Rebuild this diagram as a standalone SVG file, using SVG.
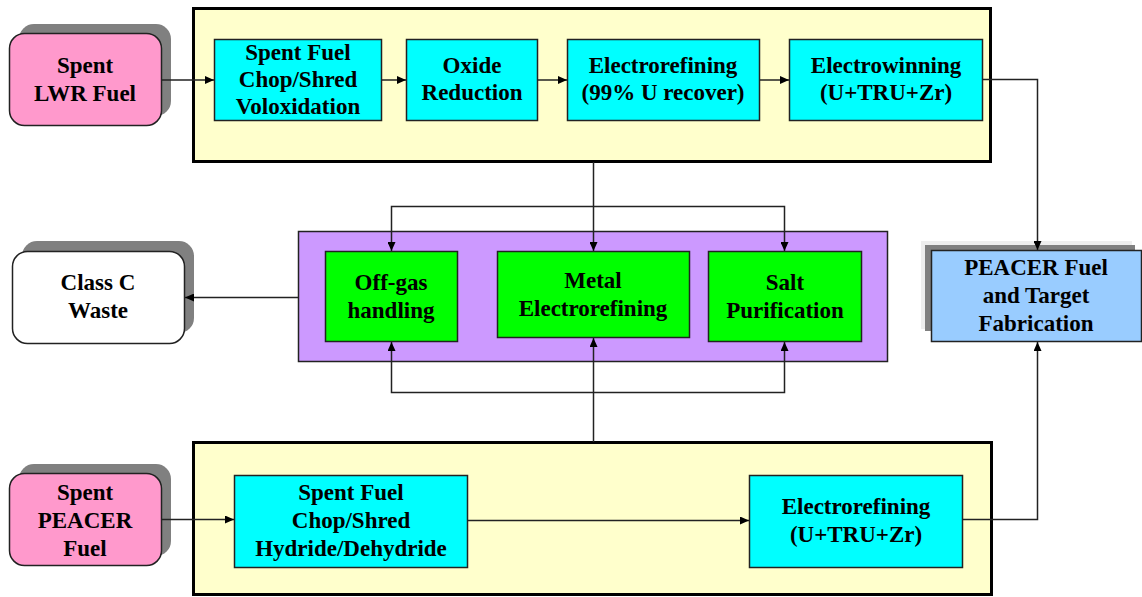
<svg xmlns="http://www.w3.org/2000/svg" width="1142" height="597" viewBox="0 0 1142 597">
<style>
text{font-family:"Liberation Serif","Times New Roman",serif;font-weight:bold;font-size:23px;fill:#000;text-anchor:middle}
.frame{fill:#FFFFCC;stroke:#000;stroke-width:3}
.purple{fill:#CC99FF;stroke:#222;stroke-width:1.5}
.cyan{fill:#00FFFF;stroke:#222;stroke-width:1.5}
.green{fill:#00FF00;stroke:#222;stroke-width:1.5}
.pink{fill:#FF99CC;stroke:#222;stroke-width:1.5}
.white{fill:#FFFFFF;stroke:#222;stroke-width:1.5}
.blue{fill:#99CCFF;stroke:#222;stroke-width:1.5}
.shadow{fill:#808080}
.conn path{fill:none;stroke:#222;stroke-width:1.5}
</style>
<defs>
<marker id="arr" markerUnits="userSpaceOnUse" markerWidth="9" markerHeight="8" refX="9" refY="4" orient="auto">
<path d="M0,0 L9,4 L0,8 z" fill="#000"/>
</marker>
</defs>
<rect width="1142" height="597" fill="#fff"/>

<g id="top-frame"><rect class="frame" x="193.5" y="8.5" width="797" height="153"/></g>
<g id="bottom-frame"><rect class="frame" x="193.5" y="442.5" width="798" height="152"/></g>
<g id="salt-frame"><rect class="purple" x="298.5" y="231.5" width="589" height="130"/></g>

<g id="lwr-fuel">
<rect class="shadow" x="19" y="24" width="152" height="92" rx="15"/>
<rect class="pink" x="9.5" y="33.5" width="152" height="92" rx="15"/>
<text x="85" y="73">Spent</text>
<text x="85" y="101">LWR Fuel</text>
</g>

<g id="chop-volox">
<rect class="cyan" x="214.5" y="39.5" width="167" height="81"/>
<text x="298" y="60">Spent Fuel</text>
<text x="298" y="87">Chop/Shred</text>
<text x="298" y="114">Voloxidation</text>
</g>

<g id="oxide-reduction">
<rect class="cyan" x="406.5" y="39.5" width="131" height="81"/>
<text x="472" y="73">Oxide</text>
<text x="472" y="100">Reduction</text>
</g>

<g id="electrorefining-top">
<rect class="cyan" x="567.5" y="39.5" width="192" height="81"/>
<text x="663" y="73">Electrorefining</text>
<text x="663" y="100">(99% U recover)</text>
</g>

<g id="electrowinning">
<rect class="cyan" x="789.5" y="39.5" width="193" height="81"/>
<text x="886" y="73">Electrowinning</text>
<text x="886" y="100">(U+TRU+Zr)</text>
</g>

<g id="class-c-waste">
<rect class="shadow" x="22" y="241" width="172" height="92" rx="15"/>
<rect class="white" x="12.5" y="251.5" width="172" height="92" rx="15"/>
<text x="98" y="290">Class C</text>
<text x="98" y="318">Waste</text>
</g>

<g id="off-gas">
<rect class="green" x="325.5" y="251.5" width="132" height="90"/>
<text x="391" y="290">Off-gas</text>
<text x="391" y="318">handling</text>
</g>

<g id="metal-electrorefining">
<rect class="green" x="497.5" y="251.5" width="192" height="86"/>
<text x="593" y="288">Metal</text>
<text x="593" y="316">Electrorefining</text>
</g>

<g id="salt-purification">
<rect class="green" x="708.5" y="251.5" width="153" height="90"/>
<text x="785" y="290">Salt</text>
<text x="785" y="318">Purification</text>
</g>

<g id="peacer-fabrication">
<rect x="921" y="241" width="211" height="88" fill="#EEEEEE"/>
<rect class="shadow" x="925" y="245" width="210" height="86"/>
<rect class="blue" x="931.5" y="250.5" width="210" height="91"/>
<text x="1036" y="275">PEACER Fuel</text>
<text x="1036" y="303">and Target</text>
<text x="1036" y="331">Fabrication</text>
</g>

<g id="peacer-fuel">
<rect class="shadow" x="19" y="464" width="152" height="92" rx="15"/>
<rect class="pink" x="9.5" y="473.5" width="152" height="92" rx="15"/>
<text x="85" y="500">Spent</text>
<text x="85" y="528">PEACER</text>
<text x="85" y="556">Fuel</text>
</g>

<g id="chop-hydride">
<rect class="cyan" x="234.5" y="475.5" width="233" height="92"/>
<text x="351" y="500">Spent Fuel</text>
<text x="351" y="528">Chop/Shred</text>
<text x="351" y="556">Hydride/Dehydride</text>
</g>

<g id="electrorefining-bottom">
<rect class="cyan" x="749.5" y="475.5" width="213" height="92"/>
<text x="856" y="514">Electrorefining</text>
<text x="856" y="542">(U+TRU+Zr)</text>
</g>

<g id="connectors" class="conn">
<path d="M161,80 H214" marker-end="url(#arr)"/>
<path d="M381,80 H406" marker-end="url(#arr)"/>
<path d="M537,80 H567" marker-end="url(#arr)"/>
<path d="M759,80 H789" marker-end="url(#arr)"/>
<path d="M982,79.5 H1037.5 V250" marker-end="url(#arr)"/>
<path d="M593.5,162 V251" marker-end="url(#arr)"/>
<path d="M593.5,206.5 H391.5 V251" marker-end="url(#arr)"/>
<path d="M593.5,206.5 H784.5 V251" marker-end="url(#arr)"/>
<path d="M298,297.5 H185" marker-end="url(#arr)"/>
<path d="M593.5,442 V338" marker-end="url(#arr)"/>
<path d="M593.5,392.5 H391.5 V342" marker-end="url(#arr)"/>
<path d="M593.5,392.5 H784.5 V342" marker-end="url(#arr)"/>
<path d="M161,519.5 H234" marker-end="url(#arr)"/>
<path d="M467,520.5 H749" marker-end="url(#arr)"/>
<path d="M962,519.5 H1037.5 V342" marker-end="url(#arr)"/>
</g>
</svg>
